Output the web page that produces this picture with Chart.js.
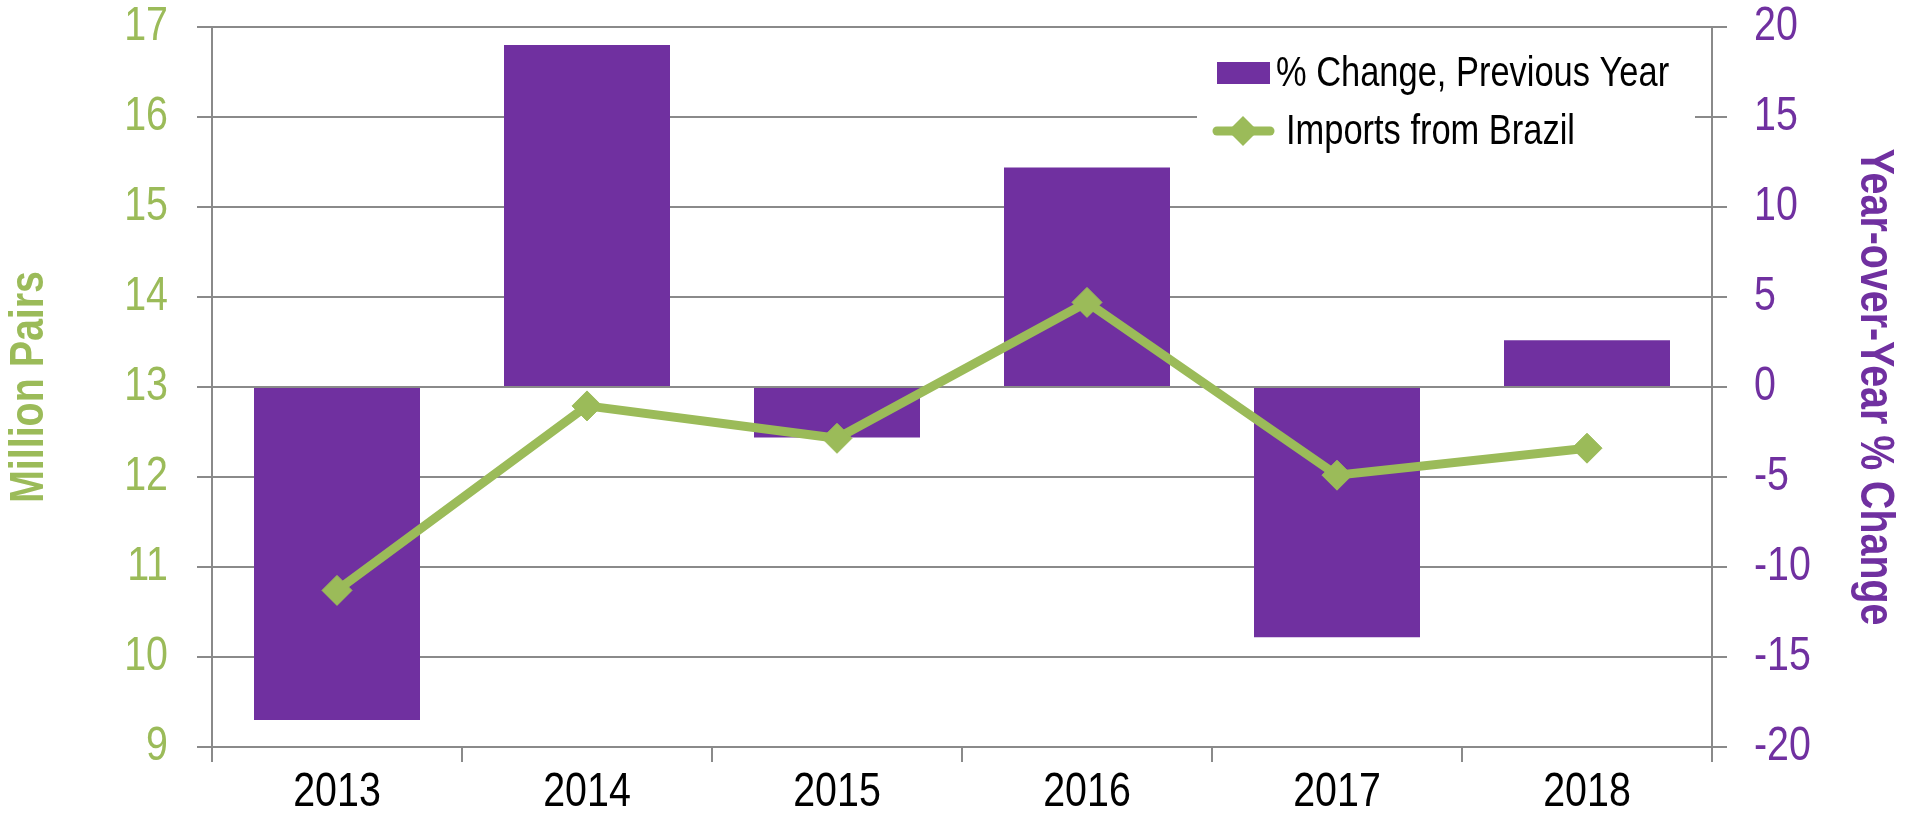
<!DOCTYPE html>
<html>
<head>
<meta charset="utf-8">
<script src="https://cdn.jsdelivr.net/npm/chart.js@4/dist/chart.umd.min.js"></script>
<style>
  html, body { margin: 0; padding: 0; background: #fff; }
  #wrap { width: 1907px; height: 816px; }
</style>
</head>
<body>
<div id="wrap"><canvas id="brazilChart"></canvas></div>
<script>
const years = ['2013', '2014', '2015', '2016', '2017', '2018'];
const importsMillionPairs = [10.74, 12.79, 12.43, 13.94, 12.02, 12.32];
const pctChangePrevYear = [-18.5, 19.0, -2.8, 12.2, -13.9, 2.6];
const pairsTicks = [9, 10, 11, 12, 13, 14, 15, 16, 17];
const pctTicks = [-20, -15, -10, -5, 0, 5, 10, 15, 20];

const PURPLE = '#7030a0';
const GREEN = '#9bbb59';
const GRID = '#8a8a8a';
const FONT = '"Liberation Sans", Arial, sans-serif';
const NARROW_K = 0.82; // no narrow font installed, squeeze text like Arial Narrow

const canvas = document.getElementById('brazilChart');
const c2d = canvas.getContext('2d');
const rawFillText = c2d.fillText;
c2d.fillText = function (text, x, y) {
    this.save();
    this.translate(x, y);
    this.scale(NARROW_K, 1);
    rawFillText.call(this, text, 0, 0);
    this.restore();
};

// legend drawn as a white box in the top right corner of the plot
const boxLegend = {
    id: 'boxLegend',
    afterDraw(chart) {
        const { ctx, chartArea } = chart;
        const [bars, line] = chart.data.datasets;
        const left = chartArea.right - 515;
        ctx.save();
        ctx.fillStyle = '#fff';
        ctx.fillRect(left, chartArea.top + 15, 498, 115);

        ctx.font = '42px ' + FONT;
        ctx.textBaseline = 'middle';
        ctx.textAlign = 'left';

        // row 1: bar swatch
        const y1 = chartArea.top + 46;
        ctx.fillStyle = bars.backgroundColor;
        ctx.fillRect(left + 20, y1 - 11, 53, 22);
        ctx.fillStyle = '#000';
        ctx.fillText(bars.label, left + 79, y1 + 1);

        // row 2: line with diamond
        const y2 = chartArea.top + 104;
        ctx.strokeStyle = line.borderColor;
        ctx.lineWidth = 9;
        ctx.lineCap = 'round';
        ctx.beginPath();
        ctx.moveTo(left + 20, y2);
        ctx.lineTo(left + 73, y2);
        ctx.stroke();
        ctx.fillStyle = line.pointBackgroundColor;
        const cx = left + 46, r = 15;
        ctx.beginPath();
        ctx.moveTo(cx, y2 - r);
        ctx.lineTo(cx + r, y2);
        ctx.lineTo(cx, y2 + r);
        ctx.lineTo(cx - r, y2);
        ctx.closePath();
        ctx.fill();
        ctx.fillStyle = '#000';
        ctx.fillText(line.label, left + 89, y2 + 1);
        ctx.restore();
    }
};

new Chart(canvas, {
    data: {
        labels: years,
        datasets: [
            {
                type: 'bar',
                label: '% Change, Previous Year',
                data: pctChangePrevYear,
                yAxisID: 'y1',
                backgroundColor: PURPLE,
                borderWidth: 0,
                categoryPercentage: 1,
                barPercentage: 0.664,
                order: 1
            },
            {
                type: 'line',
                label: 'Imports from Brazil',
                data: importsMillionPairs,
                yAxisID: 'y',
                borderColor: GREEN,
                borderWidth: 9,
                pointStyle: 'rectRot',
                pointRadius: 15,
                pointBackgroundColor: GREEN,
                pointBorderColor: GREEN,
                pointBorderWidth: 1,
                tension: 0,
                order: 0
            }
        ]
    },
    options: {
        responsive: true,
        maintainAspectRatio: false,
        animation: false,
        layout: { padding: 0 },
        plugins: {
            legend: { display: false },
            tooltip: { enabled: false }
        },
        scales: {
            x: {
                offset: true,
                grid: {
                    offset: true,
                    drawOnChartArea: false,
                    tickLength: 15,
                    color: GRID,
                    lineWidth: 2
                },
                border: { color: GRID, width: 2 },
                ticks: {
                    color: '#000',
                    padding: 2,
                    font: { family: FONT, size: 48 }
                },
                afterFit: s => { s.height = 69; }
            },
            y: {
                position: 'left',
                min: pairsTicks[0],
                max: pairsTicks[pairsTicks.length - 1],
                afterBuildTicks: s => { s.ticks = pairsTicks.map(v => ({ value: v })); },
                grid: { color: GRID, lineWidth: 2, tickLength: 15 },
                border: { color: GRID, width: 2 },
                ticks: {
                    color: GREEN,
                    padding: 29,
                    font: { family: FONT, size: 48 }
                },
                title: {
                    display: true,
                    text: 'Million Pairs',
                    color: GREEN,
                    font: { family: FONT, size: 48, weight: 'bold', lineHeight: 1.2 },
                    padding: { top: 1, bottom: 0 }
                },
                afterFit: s => { s.width = 212; s.paddingTop = 27; }
            },
            y1: {
                position: 'right',
                min: pctTicks[0],
                max: pctTicks[pctTicks.length - 1],
                afterBuildTicks: s => { s.ticks = pctTicks.map(v => ({ value: v })); },
                grid: { drawOnChartArea: false, color: GRID, lineWidth: 2, tickLength: 15 },
                border: { color: GRID, width: 2 },
                ticks: {
                    color: PURPLE,
                    padding: 27,
                    font: { family: FONT, size: 48 }
                },
                title: {
                    display: true,
                    text: 'Year-over-Year % Change',
                    color: PURPLE,
                    font: { family: FONT, size: 48, weight: 'bold', lineHeight: 1.2 },
                    padding: { top: 4, bottom: 0 }
                },
                afterFit: s => { s.width = 195; s.paddingTop = 27; }
            }
        }
    },
    plugins: [boxLegend]
});
</script>
</body>
</html>
